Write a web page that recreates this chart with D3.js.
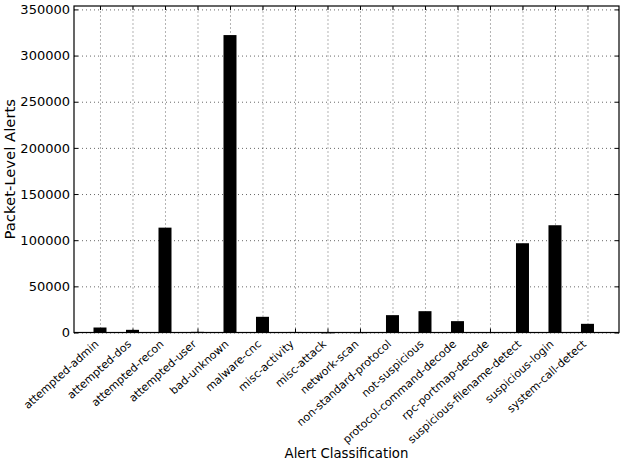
<!DOCTYPE html>
<html>
<head>
<meta charset="utf-8">
<script src="https://cdn.jsdelivr.net/npm/d3@7"></script>
<style>
    body { margin: 0; background: white; }
    svg { font-family: "DejaVu Sans", sans-serif; }
    .grid line { stroke: black; stroke-width: 0.6; stroke-dasharray: 1, 3; }
    .grid .domain { display: none; }
    .tick text { font-family: "DejaVu Sans", sans-serif; fill: black; }
    .y-axis .tick text { font-size: 13px; }
    .x-axis .tick text { font-size: 11px; }
</style>
</head>
<body>
<svg></svg>
<script>
// Data
let categories = ['attempted-admin', 'attempted-dos', 'attempted-recon', 'attempted-user',
    'bad-unknown', 'malware-cnc', 'misc-activity', 'misc-attack', 'network-scan',
    'non-standard-protocol', 'not-suspicious', 'protocol-command-decode', 'rpc-portmap-decode',
    'suspicious-filename-detect', 'suspicious-login', 'system-call-detect']
let alerts = [5400, 2900, 113600, 700, 322200, 17000, 600, 200, 400,
    18800, 23100, 12300, 500, 96700, 116200, 9400]
let yTicks = [0, 50000, 100000, 150000, 200000, 250000, 300000, 350000]

// Graph Dimensions
let width = 624
let height = 468
let plot = { left: 74, right: 619, top: 6, bottom: 332.5 }

// Scales
let scale = {
    x: d3.scaleLinear().domain([-0.8, categories.length - 0.03]).range([plot.left, plot.right]),
    y: d3.scaleLinear().domain([0, 353700]).range([plot.bottom, plot.top])
}
let barWidth = (scale.x(1) - scale.x(0)) * 0.4

// SVG
let svg = d3.select('svg')
    .attr('width', width)
    .attr('height', height)

// Gridlines
svg.append('g')
    .attr('class', 'grid')
    .attr('transform', `translate(0,${plot.bottom})`)
    .call(d3.axisBottom(scale.x).tickValues(d3.range(categories.length))
        .tickFormat('').tickSize(-(plot.bottom - plot.top)))

svg.append('g')
    .attr('class', 'grid')
    .attr('transform', `translate(${plot.left},0)`)
    .call(d3.axisLeft(scale.y).tickValues(yTicks)
        .tickFormat('').tickSize(-(plot.right - plot.left)))

// Bars
svg.selectAll('.bar')
    .data(alerts)
    .enter()
    .append('rect')
    .attr('class', 'bar')
    .attr('x', (d, i) => scale.x(i) - barWidth / 2)
    .attr('y', d => scale.y(d))
    .attr('width', barWidth)
    .attr('height', d => Math.max(scale.y(0) - scale.y(d), 1))
    .attr('fill', 'black')

// Axes (ticks inside, like matplotlib classic)
let tickLen = 4
let yAxis = svg.append('g')
    .attr('class', 'y-axis')
    .attr('transform', `translate(${plot.left},0)`)
    .call(d3.axisLeft(scale.y).tickValues(yTicks).tickFormat(d => d)
        .tickSizeInner(-tickLen).tickSizeOuter(0).tickPadding(4))
yAxis.select('.domain').remove()

svg.append('g')
    .attr('transform', `translate(${plot.right},0)`)
    .call(d3.axisRight(scale.y).tickValues(yTicks).tickFormat('')
        .tickSizeInner(-tickLen).tickSizeOuter(0))
    .select('.domain').remove()

svg.append('g')
    .attr('transform', `translate(0,${plot.top})`)
    .call(d3.axisTop(scale.x).tickValues(d3.range(categories.length)).tickFormat('')
        .tickSizeInner(-tickLen).tickSizeOuter(0))
    .select('.domain').remove()

let xAxis = svg.append('g')
    .attr('class', 'x-axis')
    .attr('transform', `translate(0,${plot.bottom})`)
    .call(d3.axisBottom(scale.x).tickValues(d3.range(categories.length))
        .tickFormat(i => categories[i])
        .tickSizeInner(-tickLen).tickSizeOuter(0).tickPadding(0))
xAxis.select('.domain').remove()
xAxis.selectAll('text')
    .attr('text-anchor', 'end')
    .attr('y', 0)
    .attr('dy', 0)
    .attr('transform', 'translate(-1,12.5) rotate(-42)')

// Frame
svg.append('rect')
    .attr('x', plot.left)
    .attr('y', plot.top)
    .attr('width', plot.right - plot.left)
    .attr('height', plot.bottom - plot.top)
    .attr('fill', 'none')
    .attr('stroke', 'black')
    .attr('stroke-width', 1.2)

// X label
svg.append('text')
    .attr('x', (plot.left + plot.right) / 2)
    .attr('y', 458)
    .attr('text-anchor', 'middle')
    .style('font-size', '13.3px')
    .text('Alert Classification')

// Y label
svg.append('text')
    .attr('x', -(plot.top + plot.bottom) / 2)
    .attr('y', 15)
    .attr('text-anchor', 'middle')
    .attr('transform', 'rotate(-90)')
    .style('font-size', '14.8px')
    .text('Packet-Level Alerts')
</script>
</body>
</html>
